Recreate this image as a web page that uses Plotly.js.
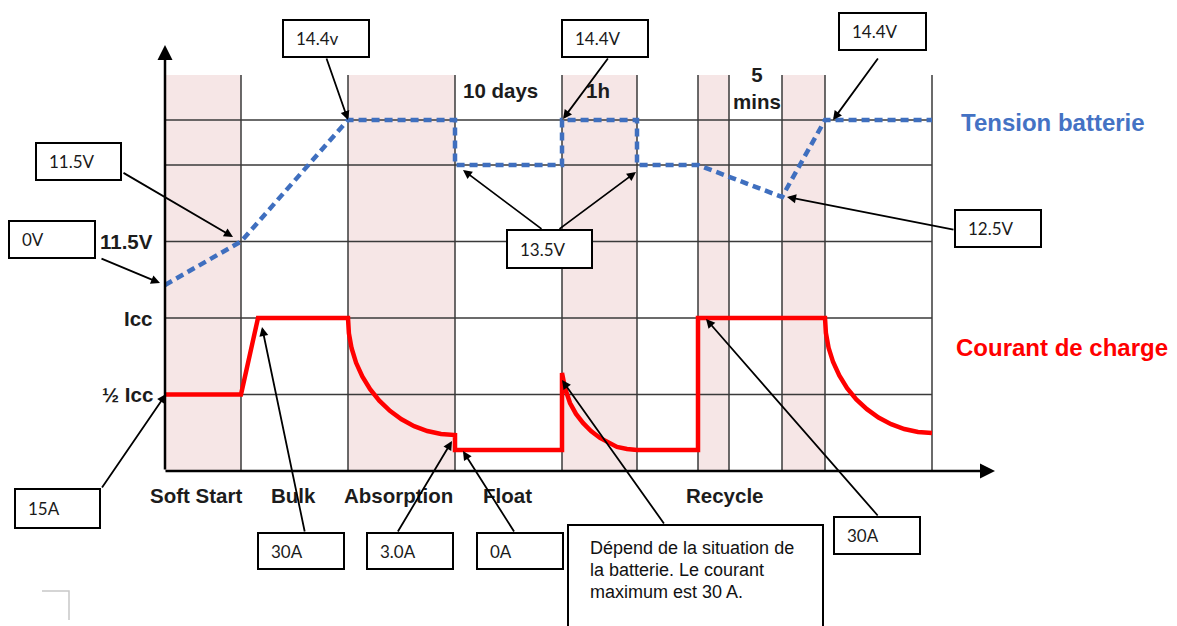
<!DOCTYPE html>
<html><head><meta charset="utf-8">
<script src="https://cdn.plot.ly/plotly-3.0.1.min.js"></script>
<style>html,body{margin:0;padding:0;background:#fff}#chart{width:1177px;height:626px}</style>
</head><body><div id="chart"></div>
<script>
// ---- data (time units on x, diagram level units on y) ----
const phaseBounds = [0, 7.6, 18.3, 29.0, 39.7, 47.2, 53.3, 56.4, 61.7, 66.0, 76.7];
const shadedPhases = [[0, 7.6], [18.3, 29.0], [39.7, 47.2], [53.3, 56.4], [61.7, 66.0]];
const gridLevels = [50, 100, 150, 200, 229.4];
const levelTop = 258.8;
const levelLabels = ['½ Icc', 'Icc', '11.5V'];
const levelLabelY = [50, 100, 150];
const phaseNames = ['Soft Start', 'Bulk', 'Absorption', 'Float', 'Recycle'];
const phaseNameX = [3.1, 12.8, 23.3, 34.2, 56.0];
const durationLabels = ['10 days', '1h', '5<br>mins'];
const durationX = [33.5, 43.3, 59.2];

const voltX = [0, 7.6, 18.3, 29.0, 29.0, 39.7, 39.7, 47.2, 47.2, 53.3, 61.7, 66.0, 76.7];
const voltY = [121.6, 150, 229.4, 229.4, 200, 200, 229.4, 229.4, 200, 200, 179.1, 229.4, 229.4];

const currX = [0, 7.6, 9.3, 18.3,
               18.39, 18.66, 19.11, 19.73, 20.51, 21.43, 22.49, 23.65, 24.91, 26.23, 27.60, 29.0,
               29.0, 39.7,
               39.7, 40.0, 40.5, 41.1, 41.8, 42.6, 43.5, 44.4, 45.2, 46.2, 47.2,
               53.3, 53.3, 66.0,
               66.09, 66.36, 66.81, 67.43, 68.21, 69.13, 70.19, 71.35, 72.61, 73.93, 75.30, 76.7];
const currY = [50, 50, 100, 100,
               90.0, 80.2, 70.7, 61.8, 53.5, 46.0, 39.3, 33.8, 29.3, 26.1, 24.2, 23.5,
               13.7, 13.7,
               64.1, 54.2, 44.4, 37.3, 31.4, 26.1, 21.6, 18.3, 15.7, 14.4, 13.7,
               13.7, 100, 100,
               90.2, 80.5, 71.2, 62.4, 54.2, 46.8, 40.4, 34.9, 30.6, 27.4, 25.5, 24.8];

// callout boxes: text, [left, top, right, bottom] in page pixels
const calloutTexts = ['14.4v', '11.5V', '0V', '14.4V', '13.5V', '14.4V', '12.5V', '15A', '30A', '3.0A', '0A', '30A'];
const calloutBoxes = [[283,20,369,57],[36,143,121,180],[9,221,95,258],[562,20,648,57],[507,230,592,268],
                      [839,13,926,50],[955,210,1041,247],[15,489,100,528],[258,533,344,569],[367,533,453,569],
                      [477,533,563,569],[834,517,920,554]];
const noteLines = ['Dépend de la situation de', 'la batterie. Le courant', 'maximum est 30 A.'];
// arrows: [headX, headY, tailX, tailY] page pixels
const arrows = [[348,120,326,57],[233,237,122,172],[160,283,100,258],[563,119,609,57],[463,170,543,230],
                [636,172,558,230],[833,120,879,57],[787,197,955,230],[166,394,101,489],[262,327,305,533],
                [452,441,397,533],[463,451,515,533],[562,380,665,525],[706,319,879,517]];

const W = 1177, H = 626;
const px = x => x / W, py = y => 1 - y / H;

const shapes = [];
shadedPhases.forEach(p => shapes.push({type:'rect', xref:'x', yref:'y', x0:p[0], x1:p[1], y0:0, y1:levelTop,
  fillcolor:'#f6e6e6', line:{width:0}, layer:'below'}));
phaseBounds.slice(1).forEach(x => shapes.push({type:'line', xref:'x', yref:'y', x0:x, x1:x, y0:0, y1:levelTop,
  line:{color:'#3a3a3a', width:1.5}, layer:'below'}));
gridLevels.forEach(y => shapes.push({type:'line', xref:'x', yref:'y', x0:0, x1:phaseBounds[phaseBounds.length-1], y0:y, y1:y,
  line:{color:'#3a3a3a', width:1.5}, layer:'below'}));
calloutBoxes.forEach(b => shapes.push({type:'rect', xref:'paper', yref:'paper', x0:px(b[0]), x1:px(b[2]), y0:py(b[3]), y1:py(b[1]),
  fillcolor:'#fff', line:{color:'#000', width:2}, layer:'above'}));
shapes.push({type:'rect', xref:'paper', yref:'paper', x0:px(568), x1:px(823), y0:py(660), y1:py(525),
  fillcolor:'#fff', line:{color:'#000', width:2}, layer:'above'});
shapes.push({type:'path', xref:'paper', yref:'paper', path:`M ${px(42)} ${py(591)} L ${px(69)} ${py(591)} L ${px(69)} ${py(620)}`,
  line:{color:'#c8c8c8', width:1.5}, layer:'above'});

const annotations = [];
const bold = {family:'Liberation Sans, Arial, sans-serif', size:20.5, color:'#1c1c1c', weight:'bold'};
// axes with arrowheads
annotations.push({xref:'x', yref:'y', axref:'x', ayref:'y', x:0, y:278.4, ax:0, ay:0, text:'', showarrow:true,
  arrowhead:2, arrowsize:1.2, arrowwidth:2.5, arrowcolor:'#000', standoff:0, startstandoff:0});
annotations.push({xref:'x', yref:'y', axref:'x', ayref:'y', x:83.0, y:0, ax:-0.1, ay:0, text:'', showarrow:true,
  arrowhead:2, arrowsize:1.2, arrowwidth:2.5, arrowcolor:'#000', standoff:0, startstandoff:0});
levelLabels.forEach((t, i) => annotations.push({xref:'x', yref:'y', x:-1.0, y:levelLabelY[i], text:'<b>'+t+'</b>',
  showarrow:false, xanchor:'right', yanchor:'middle', font:bold}));
phaseNames.forEach((t, i) => annotations.push({xref:'x', yref:'y', x:phaseNameX[i], y:-15.7, text:'<b>'+t+'</b>',
  showarrow:false, xanchor:'center', yanchor:'middle', font:bold}));
durationLabels.forEach((t, i) => annotations.push({xref:'x', yref:'y', x:durationX[i], y:i===2?250.3:249, text:'<b>'+t+'</b>',
  showarrow:false, xanchor:'center', yanchor:'middle', font:bold}));
annotations.push({xref:'paper', yref:'paper', x:px(1053), y:py(123), text:'<b>Tension batterie</b>', showarrow:false,
  xanchor:'center', yanchor:'middle', font:{family:'Liberation Sans, Arial, sans-serif', size:24, color:'#4472c4'}});
annotations.push({xref:'paper', yref:'paper', x:px(1062), y:py(347), text:'<b>Courant de charge</b>', showarrow:false,
  xanchor:'center', yanchor:'middle', font:{family:'Liberation Sans, Arial, sans-serif', size:24, color:'#ff0000'}});
calloutTexts.forEach((t, i) => {
  const b = calloutBoxes[i];
  annotations.push({xref:'paper', yref:'paper', x:px(b[0]+11), y:py((b[1]+b[3])/2), text:t, showarrow:false,
    xanchor:'left', yanchor:'middle', font:{family:'Lato, sans-serif', size:17, color:'#1a1a1a'}});
});
noteLines.forEach((t, i) => annotations.push({xref:'paper', yref:'paper', x:px(588), y:py(548 + 22*i), text:t, showarrow:false,
  xanchor:'left', yanchor:'middle', font:{family:'Liberation Sans, Arial, sans-serif', size:18, color:'#111'}}));
arrows.forEach(a => annotations.push({xref:'paper', yref:'paper', x:px(a[0]), y:py(a[1]), ax:a[2]-a[0], ay:a[3]-a[1],
  text:'', showarrow:true, arrowhead:2, arrowsize:1, arrowwidth:1.8, arrowcolor:'#000', standoff:0, startstandoff:0}));

const traces = [
  {x: voltX, y: voltY, type:'scatter', mode:'lines', name:'Tension batterie',
   line:{color:'#3f6fbf', width:4.5, dash:'8px,5px'}, hoverinfo:'skip'},
  {x: currX, y: currY, type:'scatter', mode:'lines', name:'Courant de charge',
   line:{color:'#ff0000', width:4.5}, hoverinfo:'skip'}
];

const layout = {
  width: W, height: H, margin:{l:0, r:0, t:0, b:0, pad:0},
  paper_bgcolor:'#fff', plot_bgcolor:'#fff', showlegend:false,
  xaxis:{range:[-16.5, 101.2], visible:false, fixedrange:true},
  yaxis:{range:[-101.31, 307.84], visible:false, fixedrange:true},
  shapes, annotations
};
Plotly.newPlot('chart', traces, layout, {displayModeBar:false, staticPlot:true});
</script></body></html>
